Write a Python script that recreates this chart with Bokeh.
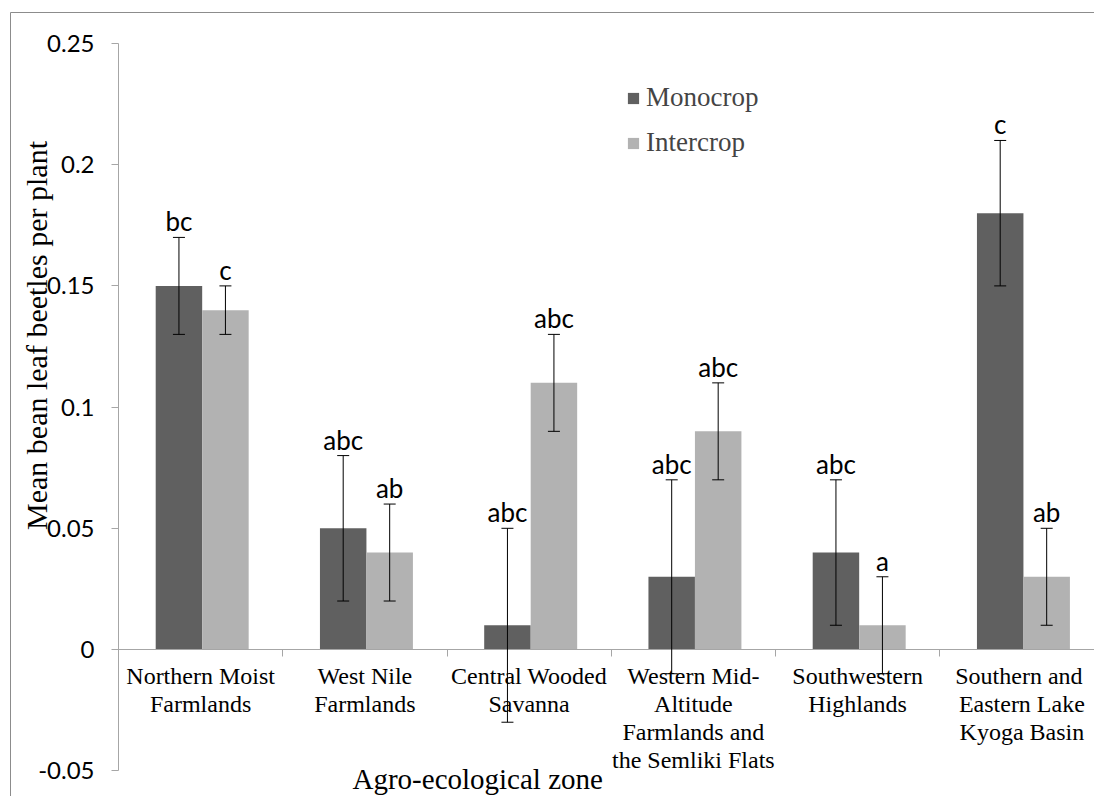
import math
from bokeh.plotting import figure
from bokeh.models import (ColumnDataSource, Range1d, FixedTicker, Whisker, TeeHead,
                          Label, Legend, LegendItem)
from bokeh.core.properties import value
from bokeh.embed import file_html
from bokeh.resources import INLINE

# ---------------- data ----------------
zones = ["Northern Moist\nFarmlands",
         "West Nile\nFarmlands",
         "Central Wooded\nSavanna",
         "Western Mid-\nAltitude\nFarmlands and\nthe Semliki Flats",
         "Southwestern\nHighlands",
         "Southern  and\nEastern Lake\nKyoga Basin"]
mono_mean = [0.15, 0.05, 0.01, 0.03, 0.04, 0.18]
mono_low = [0.13, 0.02, -0.03, -0.01, 0.01, 0.15]
mono_high = [0.17, 0.08, 0.05, 0.07, 0.07, 0.21]
mono_letters = ["bc", "abc", "abc", "abc", "abc", "c"]
inter_mean = [0.14, 0.04, 0.11, 0.09, 0.01, 0.03]
inter_low = [0.13, 0.02, 0.09, 0.07, -0.01, 0.01]
inter_high = [0.15, 0.06, 0.13, 0.11, 0.03, 0.05]
inter_letters = ["c", "ab", "abc", "abc", "a", "ab"]
y_ticks = [-0.05, 0, 0.05, 0.1, 0.15, 0.2, 0.25]
y_tick_labels = ["-0.05", "0", "0.05", "0.1", "0.15", "0.2", "0.25"]
series_names = ["Monocrop", "Intercrop"]
x_title = "Agro-ecological  zone"
y_title = "Mean bean leaf beetles per plant"

# ---------------- style ----------------
MONO_COLOR = "#606060"
INTER_COLOR = "#b2b2b2"
AXIS_COLOR = "#a6a6a6"
FRAME_COLOR = "#8c8c8c"
SERIF = "Liberation Serif"
SANS = "Lato"
BAR_W = 0.283
MONO_POS = 0.368
INTER_POS = 0.651

n = len(zones)
centers = [i + 0.5 for i in range(n)]
bounds = [i for i in range(1, n)]

# pixel geometry of the chart area (page px): x=0 at 118, 164.25 px per zone;
# y=0 at 649, 2424 px per unit
PX_X, X0 = 164.25, 118.0
PX_Y, Y0 = 2424.0, 649.0
LEFT, TOP, W, H = 10, 12, 1094, 800

x_start = (LEFT - X0) / PX_X
x_end = (LEFT + W - X0) / PX_X
y_end = (Y0 - TOP) / PX_Y
y_start = -(TOP + H - Y0) / PX_Y

p = figure(width=W, height=H,
           x_range=Range1d(x_start, x_end), y_range=Range1d(y_start, y_end),
           output_backend="svg", toolbar_location=None,
           min_border_left=0, min_border_top=0, min_border_bottom=0,
           min_border_right=0)
p.margin = (TOP, 0, 0, LEFT)
try:
    from bokeh.models import GlobalInlineStyleSheet
    p.stylesheets = [GlobalInlineStyleSheet(
        css="html, body { overflow: hidden !important; margin: 0 !important; }")]
except Exception:
    pass
p.outline_line_color = FRAME_COLOR
p.outline_line_width = 1
p.xgrid.visible = False
p.ygrid.visible = False
p.background_fill_color = "white"
p.border_fill_color = "white"

src_m = ColumnDataSource(dict(x=[i + MONO_POS for i in range(n)], top=mono_mean,
                              lo=mono_low, hi=mono_high, lab=mono_letters))
src_i = ColumnDataSource(dict(x=[i + INTER_POS for i in range(n)], top=inter_mean,
                              lo=inter_low, hi=inter_high, lab=inter_letters))

r_m = p.vbar(x="x", top="top", bottom=0, width=BAR_W, source=src_m,
             fill_color=MONO_COLOR, line_color=None)
r_i = p.vbar(x="x", top="top", bottom=0, width=BAR_W, source=src_i,
             fill_color=INTER_COLOR, line_color=None)

for src in (src_m, src_i):
    w = Whisker(base="x", lower="lo", upper="hi", source=src,
                line_color="black", line_width=1, level="annotation",
                upper_head=TeeHead(size=12, line_color="black", line_width=1),
                lower_head=TeeHead(size=12, line_color="black", line_width=1))
    p.add_layout(w)
    p.text(x="x", y="hi", text="lab", source=src, text_font=value(SANS),
           text_font_size="26px", text_align="center", text_baseline="bottom",
           text_color="black")

# x axis fixed at y = 0
xa = p.xaxis[0]
xa.fixed_location = 0
xa.bounds = (0, n)
xa.ticker = FixedTicker(ticks=centers, minor_ticks=bounds)
xa.major_label_overrides = {c: z for c, z in zip(centers, zones)}
xa.major_tick_out = 0
xa.major_tick_in = 0
xa.minor_tick_out = 7
xa.minor_tick_in = 0
xa.minor_tick_line_color = AXIS_COLOR
xa.axis_line_color = AXIS_COLOR
xa.major_label_text_font = SERIF
xa.major_label_text_font_size = "24px"
xa.major_label_text_line_height = 1.085
xa.major_label_text_color = "black"
xa.major_label_standoff = 6

# y axis fixed at x = 0
ya = p.yaxis[0]
ya.fixed_location = 0
ya.bounds = (y_ticks[0], y_ticks[-1])
ya.ticker = FixedTicker(ticks=y_ticks, minor_ticks=[])
ya.major_label_overrides = {t: l for t, l in zip(y_ticks, y_tick_labels)}
ya.major_tick_out = 7
ya.major_tick_in = 0
ya.minor_tick_out = 0
ya.minor_tick_in = 0
ya.major_tick_line_color = AXIS_COLOR
ya.axis_line_color = AXIS_COLOR
ya.major_label_text_font = SANS
ya.major_label_text_font_size = "24px"
ya.major_label_text_color = "black"
ya.major_label_standoff = 17

p.add_layout(Label(x=(36 - X0) / PX_X, y=(Y0 - 335) / PX_Y, text=y_title,
                   angle=math.pi / 2, text_align="center", text_baseline="middle",
                   text_font=SERIF, text_font_size="30px", text_color="black"))
p.add_layout(Label(x=(352 - X0) / PX_X, y=-(778 - Y0) / PX_Y, text=x_title,
                   text_align="left", text_baseline="middle",
                   text_font=SERIF, text_font_size="29px", text_color="black"))

legend = Legend(items=[LegendItem(label=series_names[0], renderers=[r_m]),
                       LegendItem(label=series_names[1], renderers=[r_i])],
                location=(616, TOP + H - 158), glyph_width=14, glyph_height=14,
                label_text_font=SERIF, label_text_font_size="27px",
                label_height=26, spacing=14, padding=0, margin=0,
                label_standoff=6, border_line_alpha=0, background_fill_alpha=0)
p.add_layout(legend)

open("out.html", "w").write(file_html(p, INLINE))
